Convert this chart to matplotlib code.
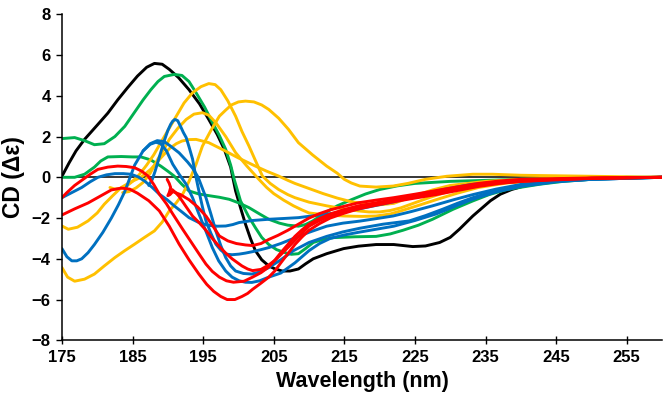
import matplotlib
matplotlib.use("Agg")
from matplotlib import pyplot as plt

# CD spectra (wavelength nm, delta epsilon)
black_x = [175, 176, 177, 178.2, 180.1, 181.5, 182.9, 184.3, 185.7, 187, 188.1, 189.2, 190.2, 191.5, 193, 194.5, 195.8, 197, 198, 198.9, 199.6, 200.3, 201, 201.7, 202.4, 203.3, 204.3, 205.2, 206.2, 207.3, 208.5, 209.5, 210.6, 212.5, 214.9, 217, 219.5, 222, 224.7, 226.5, 228.5, 230, 231.3, 233.2, 234.3, 235.7, 237.1, 238.7, 240.4, 242.5, 245, 250, 255, 260]
black_y = [0.05, 0.7, 1.3, 1.86, 2.6, 3.15, 3.8, 4.4, 4.97, 5.4, 5.59, 5.55, 5.3, 4.9, 4.3, 3.6, 2.84, 2.1, 1.37, 0.5, -0.67, -1.5, -2.3, -3.0, -3.6, -4.05, -4.35, -4.5, -4.6, -4.6, -4.5, -4.25, -4.0, -3.75, -3.5, -3.38, -3.3, -3.3, -3.4, -3.37, -3.2, -2.95, -2.55, -1.9, -1.57, -1.15, -0.83, -0.6, -0.43, -0.28, -0.15, -0.05, 0.0, 0.0]

green1_x = [175, 176.8, 178.2, 179.6, 181, 182.5, 183.9, 185.3, 186.5, 187.6, 188.6, 189.5, 190.9, 192, 193, 194, 195.2, 196.3, 197.3, 198.2, 198.9, 199.4, 200.3, 201.4, 202.4, 203.3, 204.3, 205.4, 206.6, 207.5, 208.5, 209.5, 210.6, 212, 213.5, 216.5, 219.5, 221.5, 223.3, 225.5, 227.5, 230.4, 233.2, 235.5, 238, 242.7, 246, 250, 255, 260]
green1_y = [1.9, 1.95, 1.8, 1.6, 1.65, 2.0, 2.5, 3.2, 3.8, 4.3, 4.7, 4.95, 5.05, 5.0, 4.7, 4.15, 3.45, 2.7, 2.05, 1.37, 0.6, -0.1, -1.16, -1.9, -2.47, -2.95, -3.3, -3.55, -3.7, -3.78, -3.75, -3.5, -3.2, -3.05, -2.96, -2.92, -2.9, -2.78, -2.6, -2.35, -2.06, -1.57, -1.16, -0.85, -0.6, -0.34, -0.2, -0.1, -0.03, 0.0]

green2_x = [175, 176.8, 178.2, 179.6, 180.5, 181.5, 183.4, 185, 186.2, 187.6, 189, 190, 190.9, 192, 193, 194.4, 195.8, 197.3, 198.7, 200, 201.5, 203, 204.3, 205.8, 207, 208.5, 209.5, 210.5, 212, 214, 216, 218, 220, 222.5, 225, 230, 235, 240, 250, 260]
green2_y = [0.0, 0.0, 0.15, 0.5, 0.8, 1.0, 1.02, 1.0, 1.0, 0.85, 0.55, 0.3, 0.06, -0.35, -0.67, -0.82, -0.9, -0.98, -1.08, -1.25, -1.49, -1.8, -2.06, -2.25, -2.35, -2.4, -2.32, -2.15, -1.8, -1.4, -1.1, -0.82, -0.6, -0.42, -0.3, -0.2, -0.15, -0.1, -0.03, 0.0]

yellow1_x = [181.8, 182.5, 183.3, 184.2, 185, 186, 187, 188, 189, 190.1, 191.2, 192.3, 193.5, 194.7, 195.8, 196.7, 197.5, 198.5, 199.6, 200.5, 201.5, 202.5, 203.4, 204.5, 205.7, 207, 208, 210, 212.5, 215, 217, 218.5, 220, 221.5, 223, 225, 227, 229.5, 232, 235, 240, 245, 250, 260]
yellow1_y = [-0.5, -0.58, -0.55, -0.42, -0.2, 0.15, 0.6, 1.1, 1.7, 2.35, 3.0, 3.65, 4.15, 4.45, 4.6, 4.55, 4.3, 3.75, 3.0, 2.25, 1.53, 0.75, 0.06, -0.3, -0.6, -0.85, -1.0, -1.22, -1.4, -1.55, -1.65, -1.7, -1.7, -1.63, -1.5, -1.25, -1.0, -0.72, -0.5, -0.32, -0.2, -0.1, -0.05, 0.0]

yellow2_x = [175, 175.8, 176.8, 178.2, 179.6, 181, 182.5, 183.9, 185.3, 186.7, 188.1, 189.2, 190.2, 191.2, 192.1, 193, 194, 194.9, 196.1, 197.3, 198.2, 199, 200, 201, 202.2, 203.3, 204.3, 205.7, 207.1, 208.5, 210.5, 212.5, 214, 215, 216, 217.2, 219.5, 221.9, 224, 226.5, 229.5, 233.2, 236, 240, 250, 260]
yellow2_y = [-4.43, -4.9, -5.1, -5.0, -4.75, -4.35, -3.94, -3.6, -3.28, -2.95, -2.63, -2.2, -1.65, -1.25, -0.83, -0.2, 0.64, 1.53, 2.3, 3.0, 3.3, 3.55, 3.7, 3.74, 3.7, 3.55, 3.33, 2.9, 2.35, 1.7, 1.1, 0.55, 0.2, -0.1, -0.28, -0.43, -0.48, -0.43, -0.3, -0.1, 0.05, 0.15, 0.15, 0.1, 0.05, 0.0]

yellow3_x = [183.6, 184.5, 185.5, 186.5, 187.5, 188.6, 189.5, 190.2, 191.4, 192.6, 193.7, 194.9, 195.8, 196.8, 198.2, 199.6, 201.2, 202.9, 204, 205, 206.4, 207.8, 209, 210, 212.5, 215, 217.5, 219.5, 221.5, 223, 225.5, 228, 231, 234, 238, 245, 250, 260]
yellow3_y = [-0.75, -0.7, -0.52, -0.25, 0.2, 0.9, 1.4, 1.86, 2.4, 2.84, 3.1, 3.17, 3.05, 2.68, 2.0, 1.21, 0.55, -0.1, -0.5, -0.8, -1.12, -1.4, -1.6, -1.75, -1.85, -1.9, -1.92, -1.9, -1.8, -1.65, -1.38, -1.1, -0.78, -0.5, -0.28, -0.1, -0.04, 0.0]

yellow4_x = [175, 175.9, 177.2, 178.7, 180, 181, 182.2, 183.4, 184.8, 186.2, 187.6, 189, 190.2, 191.2, 192, 193, 194, 195.8, 197.7, 200, 202.4, 204, 205.7, 207, 208, 210, 212, 214, 216, 218, 220, 222, 225, 227.5, 230, 235, 240, 250, 260]
yellow4_y = [-2.39, -2.55, -2.45, -2.14, -1.75, -1.32, -0.9, -0.5, -0.22, 0.0, 0.4, 0.95, 1.4, 1.65, 1.78, 1.85, 1.86, 1.7, 1.37, 0.95, 0.55, 0.3, 0.06, -0.15, -0.3, -0.55, -0.8, -1.02, -1.2, -1.3, -1.35, -1.28, -0.9, -0.62, -0.4, -0.2, -0.1, -0.03, 0.0]

blue1_x = [175, 175.7, 176.4, 177.1, 177.8, 178.7, 179.6, 180.8, 182, 183, 183.9, 184.6, 185.3, 186.5, 187.5, 188.3, 189, 189.8, 190.7, 191.6, 192.6, 193.5, 194.4, 195.4, 196.3, 197.2, 198.2, 199.1, 200.1, 201, 201.9, 203, 204.3, 206, 208, 210, 211.5, 213, 215, 217, 219.5, 222, 225, 228, 230.5, 233, 236.5, 240, 245, 250, 260]
blue1_y = [-3.5, -3.9, -4.1, -4.1, -4.0, -3.7, -3.3, -2.7, -2.0, -1.35, -0.7, -0.05, 0.6, 1.3, 1.62, 1.72, 1.65, 1.3, 0.64, 0.15, -0.34, -1.0, -1.8, -2.65, -3.45, -4.1, -4.6, -4.9, -5.08, -5.15, -5.16, -5.08, -4.9, -4.7, -4.2, -3.6, -3.25, -3.0, -2.83, -2.7, -2.55, -2.4, -2.12, -1.8, -1.45, -1.1, -0.72, -0.45, -0.22, -0.1, 0.0]

blue2_x = [175, 176.4, 177.8, 179, 180.1, 181.3, 182.5, 183.7, 184.8, 185.8, 186.7, 187.8, 188.8, 189.9, 190.9, 192, 193, 194.4, 195.8, 197, 198.2, 199.2, 200.1, 202, 204.3, 206.5, 208.5, 211, 215, 218.5, 222, 225.5, 229, 233, 236.5, 240, 250, 260]
blue2_y = [-1.0, -0.75, -0.5, -0.22, 0.0, 0.12, 0.18, 0.18, 0.15, 0.02, -0.18, -0.5, -0.83, -1.1, -1.4, -1.7, -1.98, -2.22, -2.36, -2.4, -2.39, -2.32, -2.22, -2.12, -2.06, -2.02, -1.98, -1.87, -1.7, -1.45, -1.2, -0.9, -0.6, -0.35, -0.24, -0.15, -0.05, 0.0]

blue3_x = [187.3, 187.8, 188.2, 188.8, 189.5, 190, 190.4, 190.7, 191, 191.4, 191.8, 192.2, 192.6, 193, 193.5, 193.9, 194.4, 194.9, 195.4, 196.1, 196.8, 197.5, 198.2, 199.1, 200.1, 201, 202, 203.2, 204.3, 206, 207.8, 210, 212.5, 214.8, 217.2, 219.5, 221.9, 224.5, 227.5, 230.5, 233.2, 236.5, 240, 245, 250, 260]
blue3_y = [-0.4, -0.1, 0.3, 1.0, 1.8, 2.3, 2.6, 2.76, 2.84, 2.78, 2.5, 2.2, 1.95, 1.5, 0.9, 0.15, -0.67, -1.45, -2.14, -2.75, -3.28, -3.57, -3.77, -3.8, -3.77, -3.72, -3.65, -3.55, -3.45, -3.25, -3.0, -2.7, -2.4, -2.25, -2.15, -2.03, -1.9, -1.68, -1.4, -1.1, -0.85, -0.58, -0.35, -0.18, -0.1, 0.0]

blue4_x = [186.5, 187.5, 188.5, 189.5, 190.5, 191.6, 192.8, 193.5, 194.3, 195.4, 196.1, 196.8, 197.5, 198.2, 198.9, 199.6, 200.7, 201.9, 203, 204.3, 206, 207.8, 210, 212.5, 214.8, 217.2, 220.5, 224.2, 226.5, 228.9, 231, 233.2, 236.5, 240, 245, 250, 260]
blue4_y = [1.3, 1.65, 1.8, 1.75, 1.5, 1.2, 0.75, 0.45, 0.0, -1.0, -1.8, -2.63, -3.35, -3.94, -4.35, -4.6, -4.72, -4.75, -4.65, -4.43, -4.05, -3.6, -3.2, -2.9, -2.68, -2.5, -2.3, -2.14, -1.88, -1.57, -1.28, -1.0, -0.65, -0.4, -0.2, -0.1, 0.0]

red1_x = [175, 175.7, 176.8, 178, 179, 180.1, 181.5, 182.9, 184.1, 185.3, 186.3, 187.2, 188, 188.8, 189.8, 190.7, 192.1, 193.5, 194.5, 195.4, 196.3, 197.3, 198.3, 199.3, 200.8, 202, 203.2, 204.3, 205.2, 206, 207, 208, 209, 210, 211.5, 213, 215, 217, 219.5, 222, 225, 228, 231, 234, 237, 240, 245, 250, 260]
red1_y = [-1.0, -0.75, -0.4, -0.1, 0.15, 0.39, 0.5, 0.55, 0.53, 0.47, 0.3, 0.06, -0.35, -0.83, -1.3, -1.8, -2.55, -3.28, -3.8, -4.26, -4.62, -4.9, -5.08, -5.15, -5.1, -4.9, -4.68, -4.4, -4.05, -3.7, -3.3, -2.9, -2.58, -2.3, -2.02, -1.8, -1.58, -1.4, -1.25, -1.1, -0.92, -0.75, -0.58, -0.4, -0.28, -0.2, -0.1, -0.05, 0.0]

red2_x = [175, 176.8, 178.7, 180.3, 182, 183.4, 184.6, 185.7, 187.3, 188.8, 190.2, 191.6, 193, 194.4, 195.5, 196.5, 197.5, 198.4, 199.5, 200.5, 201.3, 202, 203.1, 204.3, 205.2, 206, 207, 208, 209, 210, 211.5, 213, 215, 217, 219.5, 222, 225, 228, 231, 234, 237, 240, 250, 260]
red2_y = [-1.85, -1.55, -1.26, -0.95, -0.62, -0.53, -0.58, -0.78, -1.15, -1.65, -2.4, -3.28, -4.05, -4.75, -5.25, -5.6, -5.85, -6.0, -6.0, -5.85, -5.7, -5.5, -5.22, -4.9, -4.58, -4.2, -3.75, -3.3, -2.93, -2.6, -2.27, -2.0, -1.76, -1.55, -1.37, -1.2, -1.02, -0.85, -0.65, -0.45, -0.3, -0.2, -0.05, 0.0]

red3_x = [189.9, 190.2, 190.4, 190.2, 190.0, 190.3, 190.7, 191.8, 193, 194.2, 195.4, 196.4, 197.3, 198.5, 199.7, 201, 202, 203.2, 204.3, 205.6, 207, 208.5, 210, 211.5, 213, 215, 217, 219.5, 222, 225, 228, 231, 234, 237, 240, 250, 260]
red3_y = [-0.1, -0.3, -0.5, -0.75, -0.9, -0.85, -0.7, -0.85, -1.1, -1.45, -1.9, -2.4, -2.88, -3.12, -3.25, -3.32, -3.35, -3.25, -3.05, -2.85, -2.6, -2.3, -2.0, -1.78, -1.6, -1.42, -1.25, -1.12, -1.0, -0.83, -0.65, -0.47, -0.3, -0.18, -0.1, -0.03, 0.0]

red4_x = [190.6, 191.1, 191.6, 192.5, 193.5, 194.5, 195.4, 196.3, 197.3, 198.2, 199.1, 200.5, 201.3, 202, 203.2, 204.3, 205.2, 206, 207, 208, 209, 210, 211.5, 213, 215, 217, 219.5, 222, 225, 228, 231, 234, 237, 240, 250, 260]
red4_y = [-0.6, -0.75, -0.94, -1.4, -1.9, -2.25, -2.6, -3.0, -3.4, -3.72, -4.0, -4.35, -4.5, -4.58, -4.52, -4.3, -4.07, -3.8, -3.45, -3.1, -2.75, -2.4, -2.12, -1.9, -1.65, -1.45, -1.3, -1.15, -0.97, -0.8, -0.6, -0.4, -0.26, -0.15, -0.05, 0.0]

xticks = [175, 185, 195, 205, 215, 225, 235, 245, 255]
yticks = [-8, -6, -4, -2, 0, 2, 4, 6, 8]

plt.rcParams['font.family'] = ['Liberation Sans', 'DejaVu Sans']

fig = plt.figure(figsize=(6.66, 4.09), dpi=100)
ax = fig.add_axes([0.093, 0.168, 0.901, 0.797])

bleu = '#0070C0'
vert = '#00B050'
jaune = '#FFC000'
rouge = '#FF0000'
series = [
    (black_x, black_y, 'black'),
    (green1_x, green1_y, vert),
    (green2_x, green2_y, vert),
    (yellow1_x, yellow1_y, jaune),
    (yellow2_x, yellow2_y, jaune),
    (yellow3_x, yellow3_y, jaune),
    (yellow4_x, yellow4_y, jaune),
    (blue1_x, blue1_y, bleu),
    (blue2_x, blue2_y, bleu),
    (blue3_x, blue3_y, bleu),
    (blue4_x, blue4_y, bleu),
    (red1_x, red1_y, rouge),
    (red2_x, red2_y, rouge),
    (red3_x, red3_y, rouge),
    (red4_x, red4_y, rouge),
]

ax.axhline(0, color='black', lw=1.1, zorder=1)
for xs, ys, c in series:
    ax.plot(xs, ys, color=c, lw=2.1, solid_capstyle='round', solid_joinstyle='round', zorder=2)

ax.set_xlim(175, 260)
ax.set_ylim(-8, 8)
ax.set_xticks(xticks)
ax.set_yticks(yticks)
ax.spines['top'].set_visible(False)
ax.spines['right'].set_visible(False)
ax.spines['left'].set_linewidth(1.1)
ax.spines['bottom'].set_linewidth(1.1)
ax.tick_params(axis='x', direction='inout', length=6, width=1, labelsize=12, pad=4)
ax.tick_params(axis='y', direction='out', length=4, width=1, labelsize=12, pad=4)
for lab in ax.get_xticklabels() + ax.get_yticklabels():
    lab.set_fontweight('bold')

ax.set_xlabel('Wavelength (nm)', fontsize=15.5, fontweight='bold', labelpad=4)
ax.set_ylabel('CD (Δε)', fontsize=16.5, fontweight='bold', labelpad=5)

plt.savefig('out.png', dpi=100)
